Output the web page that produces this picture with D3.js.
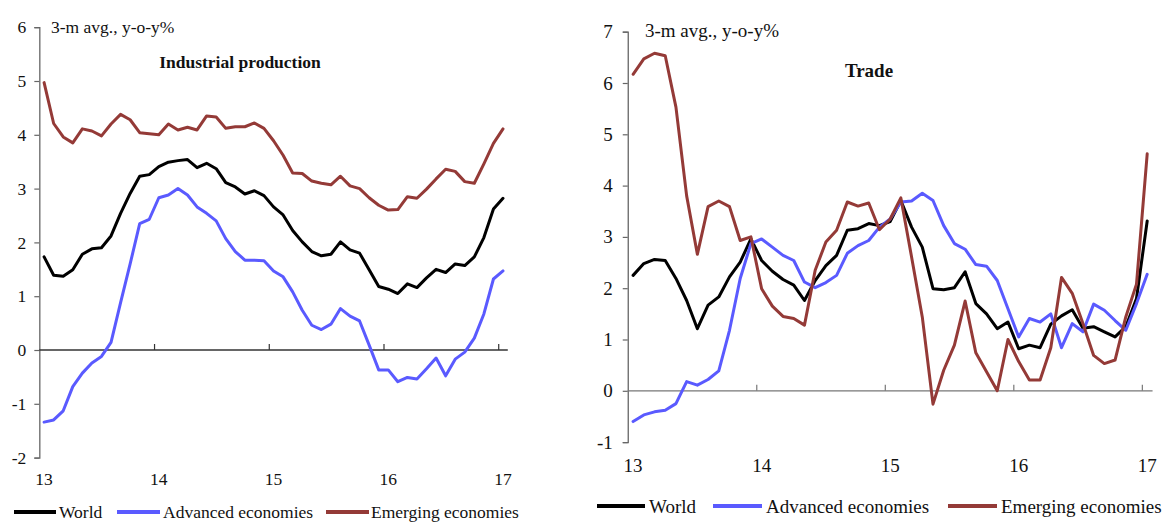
<!DOCTYPE html>
<html>
<head>
<meta charset="utf-8">
<script src="https://cdn.jsdelivr.net/npm/d3@7"></script>
<style>
  html, body { margin: 0; padding: 0; background: #fff; }
  svg { display: block; }
  text { font-family: "Liberation Serif", "Times New Roman", serif; fill: #111; }
</style>
</head>
<body>
<svg id="chart" width="1166" height="524"></svg>
<script>
// ---------- DATA ----------
const yearLabels = ["13", "14", "15", "16", "17"];
const seriesNames = ["World", "Advanced economies", "Emerging economies"];

// Industrial production (3-m avg., y-o-y%), Jan-13 .. Jan-17 (49 months)
const ipWorld = [1.73,1.39,1.37,1.49,1.78,1.88,1.90,2.12,2.54,2.91,3.23,3.26,3.41,3.49,3.52,3.54,3.39,3.47,3.37,3.11,3.03,2.90,2.96,
  2.87,2.66,2.51,2.22,2.01,1.83,1.75,1.78,2.01,1.86,1.80,1.49,1.18,1.13,1.05,
  1.23,1.16,1.34,1.50,1.44,1.60,1.57,1.73,2.09,2.62,2.82];
const ipAdvanced = [-1.34,-1.30,-1.13,-0.68,-0.43,-0.24,-0.12,0.14,0.88,1.60,2.35,2.43,2.83,2.88,3.00,2.88,2.66,2.54,2.40,2.07,1.83,1.67,1.67,
  1.66,1.47,1.36,1.08,0.74,0.46,0.38,0.48,0.77,0.63,0.54,0.09,-0.37,-0.37,-0.59,
  -0.51,-0.54,-0.35,-0.15,-0.48,-0.17,-0.04,0.22,0.67,1.32,1.47];
const ipEmerging = [4.97,4.21,3.96,3.85,4.11,4.07,3.98,4.20,4.38,4.28,4.04,4.02,4.00,4.20,4.09,4.14,4.09,4.35,4.33,4.12,4.15,4.15,4.22,
  4.12,3.89,3.62,3.29,3.28,3.14,3.10,3.07,3.23,3.05,3.00,2.83,2.69,2.60,2.61,
  2.85,2.82,2.99,3.18,3.36,3.32,3.13,3.10,3.46,3.84,4.11];

// Trade (3-m avg., y-o-y%)
const trWorld = [2.25,2.48,2.56,2.54,2.19,1.76,1.21,1.67,1.83,2.22,2.51,2.96,2.54,2.33,2.17,2.06,1.76,2.15,2.44,2.64,3.13,3.16,
  3.26,3.22,3.30,3.71,3.19,2.80,1.99,1.97,2.01,2.32,1.70,1.50,
  1.21,1.34,0.82,0.89,0.84,1.30,1.46,1.58,1.22,1.25,1.15,1.05,1.25,1.80,3.31];
const trAdvanced = [-0.60,-0.47,-0.41,-0.38,-0.25,0.18,0.11,0.22,0.39,1.18,2.19,2.87,2.96,2.80,2.64,2.54,2.12,2.01,2.11,2.25,2.68,2.83,
  2.93,3.19,3.35,3.68,3.70,3.85,3.71,3.22,2.87,2.76,2.46,2.43,
  2.15,1.60,1.05,1.41,1.34,1.50,0.84,1.31,1.15,1.69,1.57,1.37,1.18,1.70,2.27];
const trEmerging = [6.17,6.47,6.58,6.53,5.53,3.80,2.66,3.59,3.70,3.59,2.93,3.00,1.99,1.65,1.45,1.41,1.28,2.35,2.90,3.13,3.68,3.60,
  3.66,3.14,3.35,3.76,2.61,1.44,-0.26,0.40,0.89,1.75,0.74,0.37,
  0.00,1.00,0.57,0.21,0.21,0.84,2.21,1.90,1.31,0.69,0.53,0.60,1.44,2.08,4.62];

const colors = ["#000000", "#5a5aff", "#943a37"];

// ---------- DRAW ----------
const svg = d3.select("#chart");

function panel(cfg) {
  const g = svg.append("g");
  const x = d3.scaleLinear().domain([0, 48]).range(cfg.xRange);
  const y = d3.scaleLinear().domain(cfg.yDomain).range(cfg.yRange);
  const fs = cfg.fontSize;

  // y axis
  const yAxis = d3.axisLeft(y).tickValues(d3.range(cfg.yDomain[0], cfg.yDomain[1] + 1))
    .tickSize(5).tickPadding(cfg.tickPad).tickFormat(d3.format("d"));
  const ya = g.append("g").attr("transform", `translate(${x(-0.5)},0)`).call(yAxis);
  ya.select(".domain").attr("stroke", cfg.axisColor).attr("stroke-width", 1.3);
  ya.selectAll(".tick line").attr("stroke", cfg.axisColor).attr("stroke-width", 1.2);
  ya.selectAll(".tick text").style("font-family", '"Liberation Serif", serif')
    .style("font-size", fs + "px").attr("fill", "#111");
  ya.selectAll(".tick text").text(d => d < 0 ? "-" + Math.abs(d) : d);

  // x axis at zero
  const xAxis = d3.axisTop(x).tickValues([11.5, 23.5, 35.5, 47.5]).tickSize(6).tickFormat("").tickSizeOuter(0);
  const xa = g.append("g").attr("transform", `translate(0,${y(0)})`).call(xAxis);
  xa.select(".domain").attr("d", `M${x(-0.5)},0H${x(48.5)}`).attr("stroke", cfg.zeroColor).attr("stroke-width", 1.3);
  xa.selectAll(".tick line").attr("stroke", cfg.zeroColor).attr("stroke-width", 1.2);

  // year labels at bottom
  g.selectAll(".yl").data(yearLabels).enter().append("text")
    .attr("x", (d, i) => x(i * 12)).attr("y", cfg.xLabelY)
    .attr("text-anchor", "middle").attr("dominant-baseline", "central")
    .style("font-size", fs + "px").text(d => d);

  // lines
  const line = d3.line().x((d, i) => x(i)).y(d => y(d));
  cfg.series.forEach((s, k) => {
    g.append("path").datum(s).attr("d", line)
      .attr("fill", "none").attr("stroke", colors[k]).attr("stroke-width", 3)
      .attr("stroke-linejoin", "round").attr("stroke-linecap", "round");
  });

  // unit label & title
  g.append("text").attr("x", cfg.unitX).attr("y", cfg.unitY).attr("dominant-baseline", "central")
    .style("font-size", fs + "px").text("3-m avg., y-o-y%");
  g.append("text").attr("x", cfg.titleX).attr("y", cfg.titleY).attr("dominant-baseline", "central")
    .attr("text-anchor", "middle").style("font-size", fs + "px").style("font-weight", "bold").text(cfg.title);

  // legend
  const lg = g.append("g");
  cfg.legend.forEach((L, k) => {
    lg.append("line").attr("x1", L[0]).attr("x2", L[1]).attr("y1", cfg.legendY).attr("y2", cfg.legendY)
      .attr("stroke", colors[k]).attr("stroke-width", 4);
    lg.append("text").attr("x", L[2]).attr("y", cfg.legendY).attr("dominant-baseline", "central")
      .style("font-size", fs + "px").text(seriesNames[k]);
  });
}

panel({
  xRange: [44.1, 503], yDomain: [-2, 6], yRange: [457.6, 27.2],
  fontSize: 17.5, tickPad: 8, axisColor: "#666", zeroColor: "#333",
  xLabelY: 479, unitX: 51, unitY: 27, titleX: 240, titleY: 62, title: "Industrial production",
  series: [ipWorld, ipAdvanced, ipEmerging],
  legendY: 512, legend: [[14, 56, 59], [117, 160, 163], [326, 369, 371]]
});

panel({
  xRange: [633.1, 1147.2], yDomain: [-1, 7], yRange: [442.1, 31.7],
  fontSize: 19, tickPad: 10, axisColor: "#666", zeroColor: "#777",
  xLabelY: 465, unitX: 645, unitY: 30, titleX: 869, titleY: 70, title: "Trade",
  series: [trWorld, trAdvanced, trEmerging],
  legendY: 506, legend: [[597, 645, 649], [713, 762, 766], [948, 997, 1001]]
});
</script>
</body>
</html>
